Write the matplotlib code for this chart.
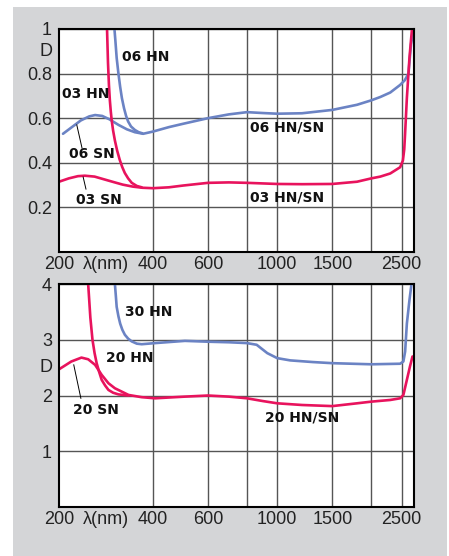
import matplotlib
matplotlib.use("Agg")
import matplotlib.pyplot as plt
from matplotlib.patches import Rectangle

plt.rcParams['font.family'] = ['Liberation Sans', 'DejaVu Sans']

BLUE = '#6b83c4'
PINK = '#e8135d'

# ---- top panel data (wavelength nm, optical density D) ----
lam_06sn = [206, 220, 235, 250, 261, 275, 290, 310, 330, 350, 372, 400, 450, 500, 600, 700,
            800, 900, 1000, 1200, 1500, 1800, 2000, 2138, 2300, 2474, 2560, 2631, 2680, 2730]
d_06sn = [0.53, 0.56, 0.59, 0.608, 0.614, 0.61, 0.595, 0.57, 0.55, 0.537, 0.53, 0.54, 0.56,
          0.575, 0.60, 0.617, 0.627, 0.623, 0.62, 0.622, 0.637, 0.66, 0.68, 0.695, 0.715,
          0.749, 0.77, 0.80, 0.93, 1.0]

lam_06hn = [301, 303, 306, 310, 314, 318, 323, 328, 333, 340, 350, 360, 370]
d_06hn = [1.0, 0.95, 0.87, 0.8, 0.74, 0.69, 0.645, 0.61, 0.585, 0.563, 0.547, 0.537, 0.532]

lam_03sn = [200, 215, 230, 242, 260, 280, 300, 320, 345, 370, 400, 450, 500, 600, 700, 800,
            1000, 1200, 1500, 1800, 2000, 2138, 2300, 2474, 2525, 2550, 2565, 2600, 2650, 2700]
d_03sn = [0.315, 0.33, 0.34, 0.342, 0.338, 0.325, 0.313, 0.302, 0.293, 0.288, 0.286, 0.29,
          0.298, 0.31, 0.312, 0.31, 0.305, 0.304, 0.305, 0.315, 0.33, 0.338, 0.352, 0.38,
          0.41, 0.46, 0.525, 0.69, 0.87, 1.0]

lam_03hn = [285, 287, 289, 291, 293, 295, 298, 302, 307, 313, 319, 325, 333, 342, 355, 368]
d_03hn = [1.0, 0.85, 0.75, 0.68, 0.63, 0.59, 0.545, 0.5, 0.455, 0.413, 0.38, 0.354, 0.33,
          0.31, 0.296, 0.29]

# ---- bottom panel data ----
lam_20sn = [200, 219, 236, 248, 261, 274, 288, 302, 334, 368, 406, 506, 600, 700, 800, 900,
            1000, 1200, 1500, 1800, 2000, 2300, 2474, 2534, 2600, 2660, 2710]
d_20sn = [2.47, 2.61, 2.68, 2.65, 2.55, 2.37, 2.22, 2.13, 2.01, 1.97, 1.95, 1.98, 2.0, 1.98,
          1.95, 1.9, 1.86, 1.83, 1.81, 1.86, 1.89, 1.92, 1.95, 2.01, 2.28, 2.52, 2.70]

lam_20hn = [248, 250, 252, 256, 260, 264, 269, 274, 281, 288, 298, 310, 334]
d_20hn = [4.0, 3.7, 3.4, 3.0, 2.76, 2.58, 2.42, 2.28, 2.18, 2.10, 2.05, 2.02, 2.0]

lam_30hn = [302, 304, 306, 310, 314, 319, 325, 333, 342, 355, 368, 406, 506, 600, 700, 800,
            859, 929, 1000, 1100, 1300, 1500, 2000, 2474, 2534, 2567, 2600, 2650, 2690]
d_30hn = [4.0, 3.8, 3.59, 3.42, 3.29, 3.18, 3.09, 3.02, 2.97, 2.93, 2.92, 2.94, 2.98, 2.965,
          2.955, 2.94, 2.91, 2.76, 2.67, 2.63, 2.6, 2.58, 2.56, 2.57, 2.61, 2.79, 3.29, 3.71,
          4.0]

xtick_vals = [200, 400, 600, 1000, 1500, 2500]
xgrid_vals = [400, 600, 800, 1000, 1500, 2000, 2500]

fig = plt.figure(figsize=(4.49, 5.56), dpi=100)
fig.patches.append(Rectangle((0.029, 0.0), 0.967, 0.987, transform=fig.transFigure,
                             facecolor='#d4d5d7', edgecolor='none', zorder=-1))

ax1 = fig.add_axes([0.1314, 0.5468, 0.7906, 0.4011])
ax2 = fig.add_axes([0.1314, 0.0881, 0.7906, 0.4011])


def style(ax, yticks, ylabels, ymax, dpos):
    ax.set_xscale('log')
    ax.set_xlim(200, 2740)
    ax.set_ylim(0, ymax)
    ax.set_facecolor('white')
    ax.xaxis.set_minor_locator(matplotlib.ticker.NullLocator())
    ax.set_xticks(xgrid_vals)
    ax.set_xticklabels([])
    # labels drawn as text so the grid-only lines stay unlabeled
    for v in xtick_vals:
        ax.text(v, -0.02, str(v), transform=ax.get_xaxis_transform(), ha='center', va='top',
                fontsize=13, color='#222222')
    ax.text(283, -0.02, 'λ(nm)', transform=ax.get_xaxis_transform(), ha='center', va='top',
            fontsize=13, color='#222222')
    ax.set_yticks(yticks)
    ax.set_yticklabels(ylabels)
    ax.text(-0.018, dpos, 'D', transform=ax.get_yaxis_transform(), ha='right', va='center',
            fontsize=13, color='#222222')
    ax.tick_params(length=0, labelsize=13, labelcolor='#222222', pad=5)
    ax.grid(True, color='#555555', lw=1.0)
    ax.set_axisbelow(True)
    for s in ax.spines.values():
        s.set_color('black')
        s.set_linewidth(1.5)
        s.set_zorder(5)


style(ax1, [0.2, 0.4, 0.6, 0.8, 1.0], ['0.2', '0.4', '0.6', '0.8', '1'], 1.0, 0.9)
style(ax2, [1, 2, 3, 4], ['1', '2', '3', '4'], 4.0, 2.5)

lw = 1.9
ax1.plot(lam_06sn, d_06sn, color=BLUE, lw=lw, solid_capstyle='round')
ax1.plot(lam_06hn, d_06hn, color=BLUE, lw=lw, solid_capstyle='round')
ax1.plot(lam_03sn, d_03sn, color=PINK, lw=lw, solid_capstyle='round')
ax1.plot(lam_03hn, d_03hn, color=PINK, lw=lw, solid_capstyle='round')

ax2.plot(lam_30hn, d_30hn, color=BLUE, lw=lw, solid_capstyle='round')
ax2.plot(lam_20sn, d_20sn, color=PINK, lw=lw, solid_capstyle='round')
ax2.plot(lam_20hn, d_20hn, color=PINK, lw=lw, solid_capstyle='round')

lab = dict(fontsize=10, fontweight='bold', color='#111111', va='center', ha='left',
           family='DejaVu Sans')
ax1.text(318, 0.874, '06 HN', **lab)
ax1.text(204, 0.708, '03 HN', **lab)
ax1.text(215, 0.44, '06 SN', **lab)
ax1.text(227, 0.233, '03 SN', **lab)
ax1.text(818, 0.56, '06 HN/SN', **lab)
ax1.text(818, 0.243, '03 HN/SN', **lab)
ax1.plot([228, 237], [0.57, 0.466], color='black', lw=0.7)
ax1.plot([239, 244], [0.336, 0.282], color='black', lw=0.7)

ax2.text(325, 3.50, '30 HN', **lab)
ax2.text(283, 2.67, '20 HN', **lab)
ax2.text(222, 1.74, '20 SN', **lab)
ax2.text(914, 1.60, '20 HN/SN', **lab)
ax2.plot([223, 235], [2.55, 1.95], color='black', lw=0.7)

fig.savefig('out.png', dpi=100)
